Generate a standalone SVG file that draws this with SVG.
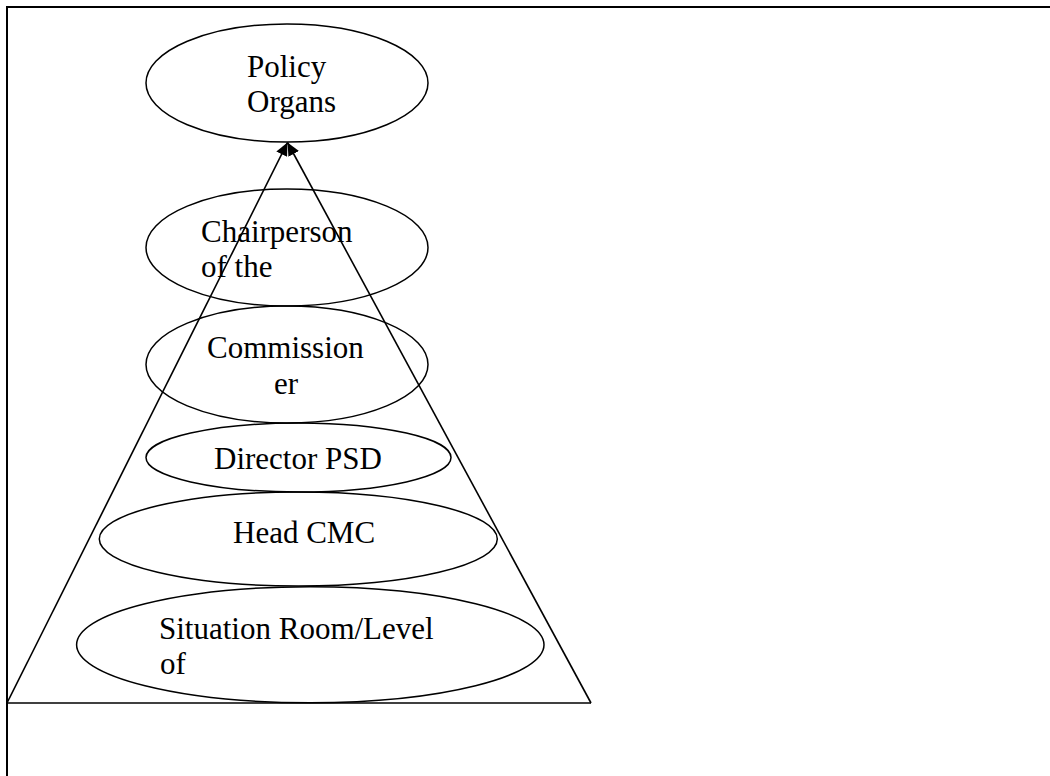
<svg xmlns="http://www.w3.org/2000/svg" width="1050" height="776" viewBox="0 0 1050 776">
  <style>
    .node { fill: none; stroke: #000; stroke-width: 1.5; }
    .lbl { font-family: "Liberation Serif", "Times New Roman", serif; font-size: 31px; fill: #000; }
    .edge { fill: none; stroke: #000; stroke-width: 1.6; }
    .frame { fill: none; stroke: #000; stroke-width: 2; }
  </style>
  <defs>
    <marker id="arrow" viewBox="0 0 13 12" refX="13" refY="6" markerWidth="13" markerHeight="12" markerUnits="userSpaceOnUse" orient="auto">
      <path d="M0,0 L13,6 L0,12 Z" fill="#000"/>
    </marker>
  </defs>
  <rect width="1050" height="776" fill="#fff"/>
  <g id="frame">
    <polyline class="frame" points="7,776 7,7 1050,7"/>
  </g>
  <g id="node-policy-organs">
    <ellipse class="node" cx="287" cy="83" rx="141" ry="59"/>
    <text class="lbl" x="247" y="77">Policy</text>
    <text class="lbl" x="247" y="112">Organs</text>
  </g>
  <g id="node-chairperson">
    <ellipse class="node" cx="287" cy="247.5" rx="141" ry="58.5"/>
    <text class="lbl" x="201" y="242">Chairperson</text>
    <text class="lbl" x="201" y="277">of the</text>
  </g>
  <g id="node-commissioner">
    <ellipse class="node" cx="287" cy="364.5" rx="141" ry="58.5"/>
    <text class="lbl" x="207" y="358">Commission</text>
    <text class="lbl" x="274" y="394">er</text>
  </g>
  <g id="node-director-psd">
    <ellipse class="node" cx="298.5" cy="457.5" rx="152.5" ry="34.5"/>
    <text class="lbl" x="214" y="469">Director PSD</text>
  </g>
  <g id="node-head-cmc">
    <ellipse class="node" cx="298.3" cy="539" rx="199" ry="47"/>
    <text class="lbl" x="233" y="543">Head CMC</text>
  </g>
  <g id="node-situation-room">
    <ellipse class="node" cx="310.3" cy="644.7" rx="233.7" ry="58"/>
    <text class="lbl" x="159" y="639">Situation Room/Level</text>
    <text class="lbl" x="160" y="674">of</text>
  </g>
  <g id="connectors">
    <line class="edge" x1="7" y1="703" x2="287.5" y2="142.5" marker-end="url(#arrow)"/>
    <line class="edge" x1="591" y1="703" x2="287.5" y2="142.5" marker-end="url(#arrow)"/>
    <line class="edge" x1="7" y1="703" x2="591" y2="703"/>
  </g>
</svg>
